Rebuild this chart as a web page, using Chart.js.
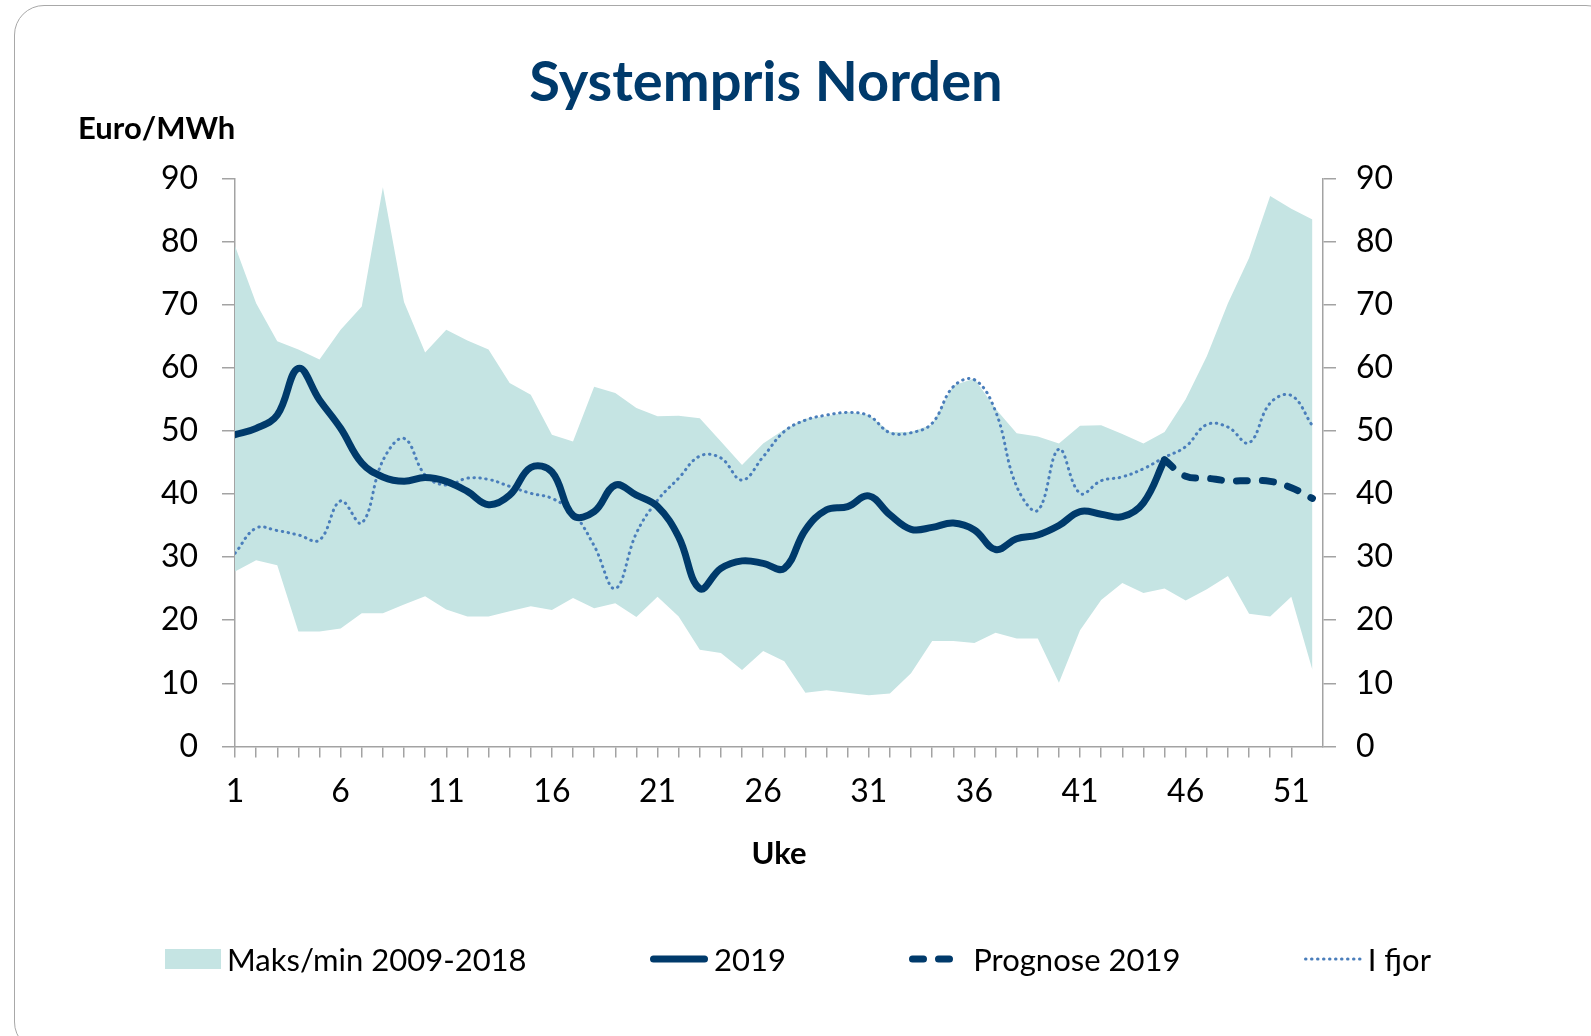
<!DOCTYPE html>
<html lang="no">
<head>
<meta charset="UTF-8">
<title>Systempris Norden</title>
<style>
    body { margin: 0; background: #fff; overflow: hidden; font-family: Lato, sans-serif; }
    #kort { position: absolute; left: 14px; top: 5px; width: 1600px; height: 1045px; border: 1px solid #a8a8a8; border-radius: 30px; }
    #mycanvas { position: absolute; left: 0; top: 0; }
    #legend { position: absolute; left: 165px; width: 1266px; top: 939px; height: 40px; display: flex; justify-content: space-between; align-items: center; font-size: 31px; color: #000; }
    .item { display: flex; align-items: center; gap: 6px; }
</style>
</head>
<body>
<div id="kort"></div>
<canvas id="mycanvas" width="1591" height="1036"></canvas>
<div id="legend"></div>

<script src="https://cdn.jsdelivr.net/npm/chart.js"></script>
<script>
    // uker og etiketter
    const uker = [1,2,3,4,5,6,7,8,9,10,11,12,13,14,15,16,17,18,19,20,21,22,23,24,25,26,
                  27,28,29,30,31,32,33,34,35,36,37,38,39,40,41,42,43,44,45,46,47,48,49,50,51,52];
    const ukeEtiketter = ['1','6','11','16','21','26','31','36','41','46','51'];

    // maks/min 2009-2018
    const maksVerdier = [79.3,70.2,64.2,62.9,61.3,66.0,69.7,88.6,70.4,62.4,66.0,64.3,62.9,57.6,55.7,49.4,48.3,57.0,56.0,53.6,
                         52.3,52.4,52.0,48.3,44.6,48.0,50.2,51.9,52.3,53.0,52.5,49.8,49.8,51.0,57.2,58.3,53.5,49.6,49.1,48.0,
                         50.8,50.9,49.5,48.0,49.8,55.0,61.8,70.2,77.4,87.2,85.2,83.5];
    const minVerdier  = [27.7,29.5,28.7,18.2,18.2,18.7,21.1,21.1,22.5,23.8,21.7,20.6,20.6,21.4,22.2,21.6,23.5,21.9,22.7,20.5,
                         23.7,20.6,15.3,14.8,12.1,15.1,13.5,8.5,8.9,8.5,8.1,8.4,11.6,16.7,16.7,16.4,18.0,17.1,17.1,10.1,
                         18.4,23.2,25.9,24.3,25.0,23.1,24.9,27.0,21.0,20.6,23.7,12.1];

    // 2019 (uke 1-45) og prognose (uke 45-52)
    const pris2019 = [49.4,50.4,52.5,59.9,54.9,50.4,44.9,42.7,42.0,42.6,42.0,40.4,38.3,39.8,44.2,43.5,36.6,37.2,41.4,39.8,
                      38.0,33.2,25.0,28.2,29.4,29.0,28.2,34.3,37.5,38.0,39.7,36.7,34.4,34.7,35.4,34.3,31.2,32.9,33.5,35.0,
                      37.2,36.8,36.4,38.6,45.4];
    const prognose = [45.4,42.8,42.5,42.1,42.1,42.0,41.0,39.3]; // uke 45-52

    // i fjor
    const iFjor = [30.6,34.6,34.2,33.5,32.7,38.9,35.4,45.3,48.8,43.0,41.4,42.5,42.3,41.2,40.1,39.3,37.0,31.8,25.0,33.8,
                   39.0,42.5,46.0,45.7,42.2,45.9,49.9,51.7,52.5,52.9,52.4,49.7,49.7,51.2,57.0,58.1,53.1,41.2,37.4,47.1,
                   40.1,42.1,42.7,44.0,45.8,47.5,51.0,50.6,48.1,54.4,55.6,50.8];

    const navy = '#003a6b';
    const aksefarge = '#a3a3a3';

    Chart.defaults.font.family = 'Lato';
    Chart.defaults.color = '#000';

    const yAkse = (pos, bredde, pad) => ({
        position: pos,
        min: 0,
        max: 90,
        ticks: { stepSize: 10, padding: pad, font: { size: 32 }, color: '#000' },
        grid: { drawOnChartArea: false, tickLength: 13, color: aksefarge, lineWidth: 1.5 },
        border: { color: aksefarge, width: 1.5 },
        afterFit: s => { s.width = bredde; }
    });

    const chart = new Chart(document.getElementById('mycanvas'), {
        type: 'line',
        data: {
            labels: uker,
            datasets: [
                { label: 'min', data: minVerdier, borderWidth: 0, borderColor: 'transparent',
                  pointRadius: 0, tension: 0, fill: false },
                { label: 'Maks/min 2009-2018', data: maksVerdier, borderWidth: 0, borderColor: 'transparent',
                  backgroundColor: '#c5e4e3', pointRadius: 0, tension: 0, fill: '-1' },
                { label: '2019', data: uker.map(u => pris2019[u - 1] ?? null), borderColor: navy, borderWidth: 7,
                  borderCapStyle: 'round', borderJoinStyle: 'round', pointRadius: 0, tension: 0.4, fill: false },
                { label: 'Prognose 2019', data: uker.map(u => u >= 45 ? prognose[u - 45] : null), borderColor: navy,
                  borderWidth: 7, borderDash: [11, 15], borderCapStyle: 'round', pointRadius: 0, tension: 0.4, fill: false },
                { label: 'I fjor', data: iFjor, borderColor: '#4a7ebb', borderWidth: 3, borderDash: [0.5, 5.5],
                  borderCapStyle: 'round', pointRadius: 0, tension: 0.4, fill: false }
            ]
        },
        options: {
            responsive: false,
            animation: false,
            devicePixelRatio: 1,
            layout: { padding: { left: 78, right: 137, top: 49, bottom: 163 } },
            plugins: {
                legend: { display: false },
                tooltip: { enabled: false },
                filler: { drawTime: 'beforeDatasetsDraw' },
                title: { display: true, text: 'Systempris Norden', color: navy,
                         font: { size: 56, weight: 'bold' }, padding: { top: 0, bottom: 0 } },
                subtitle: { display: true, text: 'Euro/MWh', align: 'start', color: '#000',
                            font: { size: 31, weight: 'bold' }, padding: { top: -6, bottom: 31 } }
            },
            scales: {
                x: {
                    type: 'linear',
                    min: 1,
                    max: 52.5,
                    afterBuildTicks: s => { s.ticks = s.ticks.filter(t => Number.isInteger(t.value)); },
                    ticks: { stepSize: 1, autoSkip: false, maxRotation: 0, padding: 15, font: { size: 32 },
                             callback: v => ukeEtiketter.includes(String(v)) ? String(v) : '' },
                    grid: { drawOnChartArea: false, tickLength: 11, color: aksefarge, lineWidth: 1.5 },
                    border: { color: aksefarge, width: 1.5 },
                    title: { display: true, text: 'Uke', font: { size: 31, weight: 'bold' },
                             padding: { top: 10, bottom: 0 } }
                },
                y: yAkse('left', 157, 24),
                y2: yAkse('right', 131, 20)
            }
        }
    });

    // legende i html, bygget fra datasettene
    const legend = document.getElementById('legend');
    chart.data.datasets.forEach(ds => {
        if (ds.label === 'min') return;
        const item = document.createElement('div');
        item.className = 'item';
        let prove;
        if (ds.fill === '-1') {
            prove = '<svg width="56" height="20"><rect width="56" height="20" fill="' + ds.backgroundColor + '"/></svg>';
        } else {
            const w = ds.borderWidth;
            const dash = (ds.borderDash || []).join(' ');
            prove = '<svg width="58" height="20"><line x1="' + (w / 2) + '" y1="10" x2="' + (58 - w / 2) + '" y2="10" stroke="' +
                ds.borderColor + '" stroke-width="' + w + '" stroke-linecap="round"' +
                (dash ? ' stroke-dasharray="' + dash + '"' : '') + '/></svg>';
        }
        item.innerHTML = prove + '<span>' + ds.label + '</span>';
        legend.appendChild(item);
    });
</script>
</body>
</html>
